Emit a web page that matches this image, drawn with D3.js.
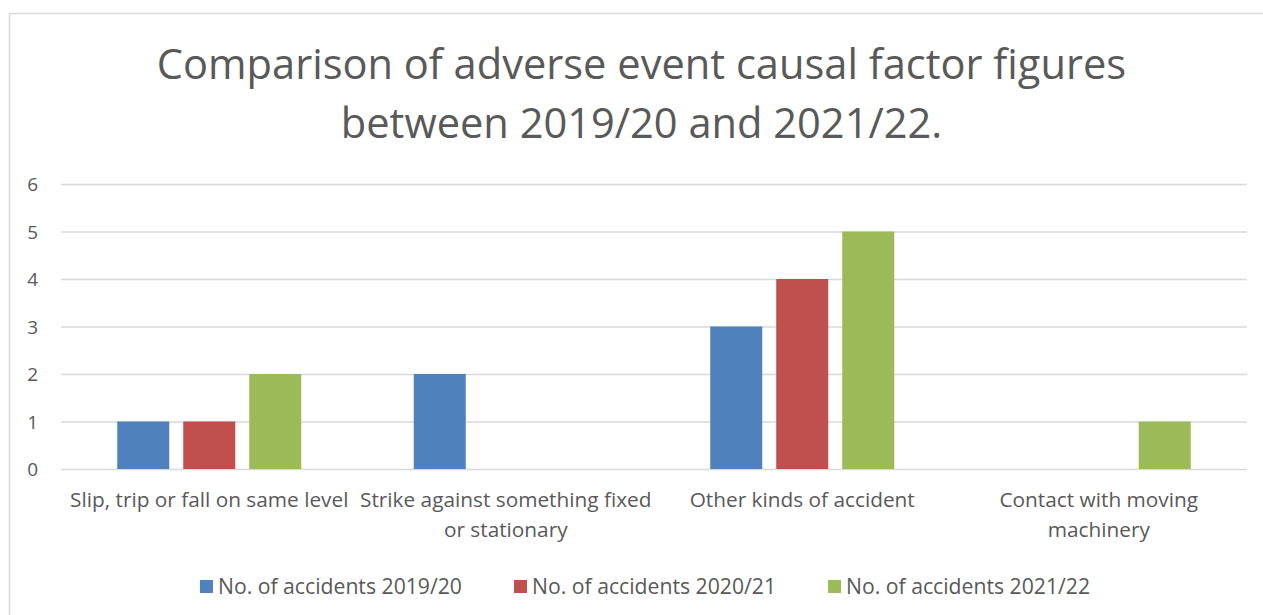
<!DOCTYPE html>
<html>
<head>
<meta charset="utf-8">
<script src="https://cdn.jsdelivr.net/npm/d3@7"></script>
<style>
  html, body { margin: 0; padding: 0; background: #fff; }
  svg { display: block; }
  text { font-family: "Open Sans", "Noto Sans", sans-serif; fill: #595959; }
</style>
</head>
<body>
<svg id="chart" width="1263" height="615"></svg>
<script>
// ---- data ----
const titleLines = ["Comparison of adverse event causal factor figures", "between 2019/20 and 2021/22."];
const categories = [
  "Slip, trip or fall on same level",
  "Strike against something fixed\nor stationary",
  "Other kinds of accident",
  "Contact with moving\nmachinery"
];
const seriesNames = ["No. of accidents 2019/20", "No. of accidents 2020/21", "No. of accidents 2021/22"];
const values2019 = [1, 2, 3, 0];
const values2020 = [1, 0, 4, 0];
const values2021 = [2, 0, 5, 1];
const yTicks = [0, 1, 2, 3, 4, 5, 6];
const colors = ["#4f81bd", "#c0504d", "#9bbb59"];

const seriesValues = [values2019, values2020, values2021];
const data = categories.map((c, i) => ({
  cat: c,
  vals: seriesNames.map((s, j) => ({ series: s, idx: j, value: seriesValues[j][i] }))
}));

// ---- layout ----
const svg = d3.select("#chart");
const W = 1263, H = 615;
const plot = { left: 61, right: 1247, top: 184, bottom: 469 };
const labelSize = "20.8px";

svg.append("rect").attr("width", W).attr("height", H).attr("fill", "#fff");
// chart frame
svg.append("rect")
  .attr("x", 9.5).attr("y", 13.5).attr("width", W + 10).attr("height", H + 10)
  .attr("fill", "none").attr("stroke", "#d9d9d9").attr("stroke-width", 1.5);

// title
svg.append("g").selectAll("text").data(titleLines).enter().append("text")
  .attr("x", 641.5).attr("y", (d, i) => 79 + i * 59)
  .attr("text-anchor", "middle")
  .style("font-size", "41.6px")
  .text(d => d);

const y = d3.scaleLinear().domain([0, 6]).range([plot.bottom, plot.top]);
const x0 = d3.scaleBand().domain(categories).range([plot.left, plot.right]).padding(0);
const groupW = 184;
const x1 = d3.scaleBand().domain(seriesNames)
  .range([(x0.bandwidth() - groupW) / 2, (x0.bandwidth() + groupW) / 2])
  .paddingInner(0.212).paddingOuter(0);

// gridlines + y ticks
const yAxis = d3.axisLeft(y).tickValues(yTicks).tickFormat(d3.format("d"))
  .tickSize(-(plot.right - plot.left)).tickPadding(23);
const gy = svg.append("g").attr("transform", `translate(${plot.left},0)`).call(yAxis);
gy.select(".domain").remove();
gy.selectAll(".tick line").attr("stroke", "#d9d9d9").attr("stroke-width", 1.5);
gy.selectAll(".tick text")
  .style("font-size", "19px").style("font-family", "'Open Sans', sans-serif")
  .attr("fill", "#595959").attr("dy", "0.36em");

// bars
const groups = svg.append("g").selectAll("g").data(data).enter().append("g")
  .attr("transform", d => `translate(${x0(d.cat)},0)`);
groups.selectAll("rect").data(d => d.vals.filter(v => v.value > 0)).enter().append("rect")
  .attr("x", d => x1(d.series))
  .attr("width", x1.bandwidth())
  .attr("y", d => y(d.value))
  .attr("height", d => y(0) - y(d.value))
  .attr("fill", d => colors[d.idx]);

// category labels
const catG = svg.append("g");
categories.forEach(c => {
  const cxp = x0(c) + x0.bandwidth() / 2;
  const t = catG.append("text")
    .attr("x", cxp)
    .attr("y", 507)
    .attr("text-anchor", "middle")
    .style("font-size", labelSize);
  c.split("\n").forEach((line, i) => {
    t.append("tspan").attr("x", cxp).attr("dy", i === 0 ? 0 : 30).text(line);
  });
});

// legend
const legend = svg.append("g");
const items = seriesNames.map((s, i) => {
  const g = legend.append("g");
  g.append("rect").attr("x", 0).attr("y", -6).attr("width", 13).attr("height", 13).attr("fill", colors[i]);
  const t = g.append("text").attr("x", 18).attr("y", 0).attr("dy", "0.36em")
    .style("font-size", "21.2px").text(s);
  return { g, w: 18 + t.node().getComputedTextLength() };
});
const gap = 52;
const total = d3.sum(items, d => d.w) + gap * (items.length - 1);
let cx = 645 - total / 2;
items.forEach(it => {
  it.g.attr("transform", `translate(${cx},586)`);
  cx += it.w + gap;
});
</script>
</body>
</html>
